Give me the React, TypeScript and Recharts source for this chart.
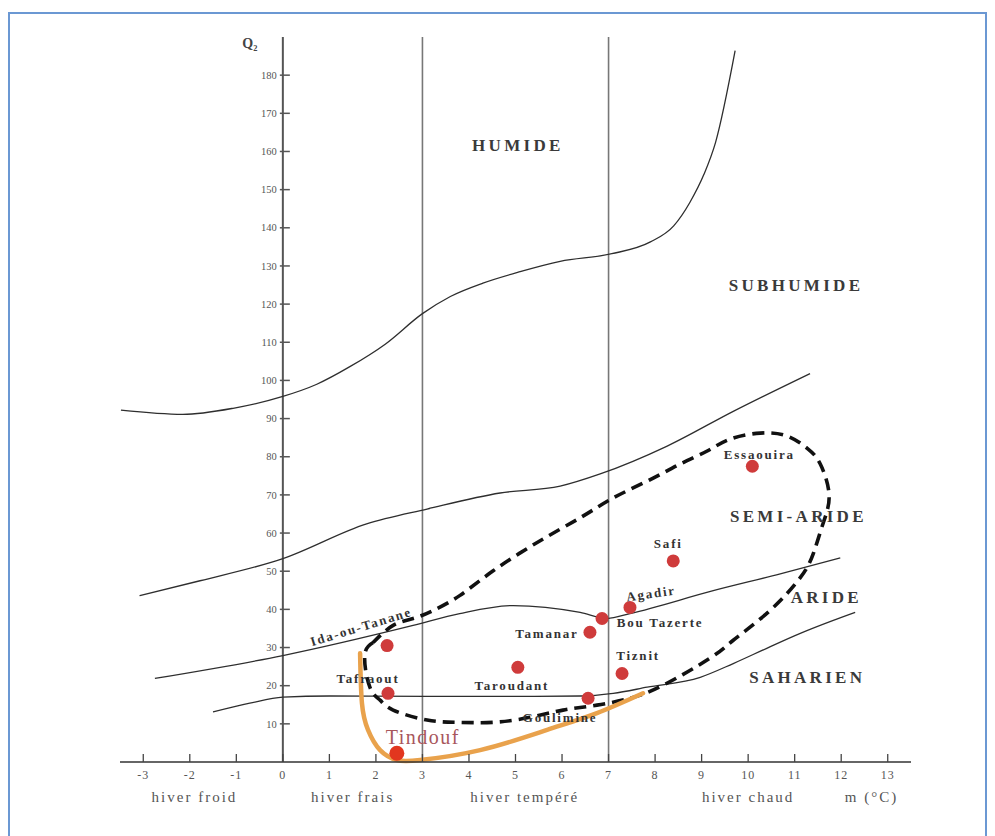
import React from "react";
import { ComposedChart, Line, Scatter, XAxis, YAxis, ReferenceLine } from "recharts";

// Emberger climagram: m (°C) on x, Q2 on y
const xTicks = [-3, -2, -1, 0, 1, 2, 3, 4, 5, 6, 7, 8, 9, 10, 11, 12, 13];
const yTicks = [10, 20, 30, 40, 50, 60, 70, 80, 90, 100, 110, 120, 130, 140, 150, 160, 170, 180];

// bioclimatic limits [m, Q2]
const humideLimit: [number, number][] = [
  [-3.48, 92.2], [-2.15, 91.1], [-1.07, 92.7], [0, 95.8], [0.73, 99], [1.44, 103.6],
  [2.2, 109.5], [3.0, 117.5], [3.6, 122], [4.3, 125.5], [5.1, 128.5], [5.96, 131.2],
  [7.07, 133.2], [7.9, 136.3], [8.4, 140.5], [8.75, 146.7], [9.05, 154], [9.3, 162.4],
  [9.72, 186.4],
];
const subhumideLimit: [number, number][] = [
  [-3.08, 43.6], [-1.78, 47.5], [0, 53.3], [1.8, 62.4], [3.1, 66.3], [4.67, 70.5],
  [5.96, 72.3], [6.82, 75.5], [8.26, 82.8], [9.68, 91.9], [11.33, 101.8],
];
const semiArideLimit: [number, number][] = [
  [-2.75, 21.9], [0, 27.9], [2.8, 35.8], [3.8, 38.9], [4.95, 41], [6.39, 39.2],
  [6.97, 37.6], [7.46, 38.9], [9.25, 44.9], [10.69, 49.3], [11.98, 53.5],
];
const arideLimit: [number, number][] = [
  [-1.5, 13.1], [-0.71, 15.4], [0, 17], [1, 17.3], [3.1, 17.2], [5, 17.2], [6.39, 17.3],
  [7.1, 18], [7.83, 19.6], [8.97, 22.2], [9.68, 25.8], [10.4, 29.8], [11.12, 33.7],
  [11.83, 37.1], [12.3, 39.2],
];

// dashed envelope of the stations
const envelope: [number, number][] = [
  [1.94, 31.3], [1.76, 27.9], [1.87, 19.6], [2.09, 16.2], [2.37, 13.6], [3.1, 11],
  [3.74, 10.4], [4.52, 10.4], [5.31, 11.7], [6.02, 13.6], [6.75, 14.9], [7.46, 16.7],
  [8.17, 20.1], [9.18, 27.2], [9.68, 31.9], [10.47, 39.7], [11.12, 48.3], [11.4, 54.6],
  [11.61, 62.5], [11.74, 70], [11.55, 78.1], [11.27, 82.2], [10.84, 85.4],
  [10.26, 86.2], [9.61, 84.6], [9.12, 81.5], [8.54, 78.1], [7.83, 73.6], [7.1, 69.2],
  [6.39, 64], [5.53, 58], [4.52, 50.1], [3.8, 43.6], [3.23, 39.7], [2.8, 37.6],
  [2.37, 35.8], [1.94, 31.3],
];

// orange trace around Tindouf
const tindoufTrace: [number, number][] = [
  [1.66, 28.5], [1.7, 15.4], [1.83, 8.4], [2.09, 3.1], [2.45, 0.5], [2.95, 0.5],
  [4.24, 3.1], [5.68, 8.4], [6.75, 12.8], [7.74, 18],
];

const stationNames = [
  "Ida-ou-Tanane", "Tafraout", "Taroudant", "Tamanar", "Bou Tazerte", "Agadir",
  "Tiznit", "Goulimine", "Safi", "Essaouira", "Tindouf",
];
const stationM = [2.24, 2.26, 5.05, 6.6, 6.86, 7.46, 7.29, 6.56, 8.39, 10.09, 2.45];
const stationQ = [30.5, 18, 24.8, 34, 37.6, 40.5, 23.2, 16.7, 52.7, 77.5, 2.3];

const zoneNames = ["HUMIDE", "SUBHUMIDE", "SEMI-ARIDE", "ARIDE", "SAHARIEN"];
const zoneM = [5.05, 11.03, 11.08, 11.68, 11.27];
const zoneQ = [161.6, 125, 64.5, 43.1, 22.2];

const winterNames = ["hiver froid", "hiver frais", "hiver tempéré", "hiver chaud", "m (°C)"];
const winterM = [-1.9, 1.5, 5.2, 10, 12.65];

const pts = (arr: [number, number][]) => arr.map(([x, y]) => ({ x, y }));
const stations = stationNames.map((name, i) => ({ name, x: stationM[i], y: stationQ[i] }));
const zones = zoneNames.map((name, i) => ({ name, x: zoneM[i], y: zoneQ[i] }));
const winters = winterNames.map((name, i) => ({ name, x: winterM[i], y: 0 }));
const yTickPts = yTicks.map((v) => ({ x: 0, y: v }));

const SERIF = '"Liberation Serif", "DejaVu Serif", serif';

const labelPos: Record<string, { dx: number; dy: number; rot?: number }> = {
  "Ida-ou-Tanane": { dx: -26, dy: -19, rot: -17 },
  Tafraout: { dx: -20, dy: -15 },
  Taroudant: { dx: -6, dy: 18 },
  Tamanar: { dx: -43, dy: 1 },
  "Bou Tazerte": { dx: 58, dy: 4 },
  Agadir: { dx: 21, dy: -14, rot: -8 },
  Tiznit: { dx: 16, dy: -18 },
  Goulimine: { dx: -28, dy: 19 },
  Safi: { dx: -5, dy: -17 },
  Essaouira: { dx: 7, dy: -12 },
  Tindouf: { dx: 26, dy: -16 },
};

const StationMark = (p: any) => {
  const { cx, cy, payload } = p;
  const big = payload.name === "Tindouf";
  const o = labelPos[payload.name];
  const tx = cx + o.dx;
  const ty = cy + o.dy;
  return (
    <g>
      <circle cx={cx} cy={cy} r={big ? 7.5 : 6.5} fill={big ? "#e2361f" : "#cf3b3b"} />
      <text
        x={tx}
        y={ty}
        dy="0.35em"
        textAnchor="middle"
        transform={o.rot ? `rotate(${o.rot} ${tx} ${ty})` : undefined}
        fontFamily={SERIF}
        fontSize={big ? 20 : 13}
        fontWeight={big ? "normal" : "bold"}
        letterSpacing={big ? 1.5 : 1.8}
        fill={big ? "#a8565c" : "#333"}
      >
        {payload.name}
      </text>
    </g>
  );
};

const ZoneLabel = (p: any) => (
  <text x={p.cx} y={p.cy} dy="0.35em" textAnchor="middle" fontFamily={SERIF} fontSize={17}
    fontWeight="bold" letterSpacing={3.3} fill="#3a3a3a">
    {p.payload.name}
  </text>
);

const WinterLabel = (p: any) => (
  <text x={p.cx} y={p.cy + 35} dy="0.35em" textAnchor="middle" fontFamily={SERIF} fontSize={15}
    letterSpacing={2} fill="#555">
    {p.payload.name}
  </text>
);

const YTickMark = (p: any) => (
  <g>
    <line x1={p.cx - 3} y1={p.cy} x2={p.cx + 7} y2={p.cy} stroke="#555" strokeWidth={1.5} />
    <text x={p.cx - 6} y={p.cy} dy="0.35em" textAnchor="end" fontFamily={SERIF} fontSize={10.5}
      fill="#555">
      {p.payload.y}
    </text>
  </g>
);

const XTick = (p: any) => {
  const { x, y, payload } = p;
  return (
    <g>
      <line x1={x} y1={y - 8} x2={x} y2={y} stroke="#444" strokeWidth={1.3} />
      <text x={x} y={y + 13} dy="0.35em" textAnchor="middle" fontFamily={SERIF} fontSize={12}
        letterSpacing={1} fill="#555">
        {payload.value}
      </text>
    </g>
  );
};

const QTitle = (p: any) => (
  <text x={p.cx - 33} y={p.cy + 6} dy="0.35em" textAnchor="middle" fontFamily={SERIF}
    fontSize={14} fontWeight="bold" fill="#444">
    Q₂
  </text>
);

const curveStyle = { stroke: "#2e2e2e", strokeWidth: 1.3 };

export default function App() {
  return (
    <div style={{ position: "absolute", left: 0, top: 0, width: 995, height: 836, background: "#fff", overflow: "hidden" }}>
      <div
        style={{
          position: "absolute", left: 8, top: 12, width: 979, height: 840,
          boxSizing: "border-box", border: "2px solid #6b98d3",
        }}
      />
      <div style={{ position: "absolute", left: 0, top: 0 }}>
        <ComposedChart width={995} height={836} margin={{ top: 37, right: 84, bottom: 44, left: 120 }}>
          <XAxis
            type="number"
            dataKey="x"
            domain={[-3.5, 13.5]}
            ticks={xTicks}
            height={30}
            tickSize={0}
            tickMargin={0}
            tickLine={false}
            axisLine={{ stroke: "#333", strokeWidth: 1.6 }}
            tick={<XTick />}
            interval={0}
          />
          <YAxis type="number" dataKey="y" domain={[0, 190]} hide width={0} />

          <ReferenceLine x={0} stroke="#555" strokeWidth={2} />
          <ReferenceLine x={3} stroke="#777" strokeWidth={1.6} />
          <ReferenceLine x={7} stroke="#777" strokeWidth={1.6} />

          <Line data={pts(humideLimit)} dataKey="y" type="monotone" {...curveStyle} dot={false} activeDot={false} isAnimationActive={false} />
          <Line data={pts(subhumideLimit)} dataKey="y" type="monotone" {...curveStyle} dot={false} activeDot={false} isAnimationActive={false} />
          <Line data={pts(semiArideLimit)} dataKey="y" type="monotone" {...curveStyle} dot={false} activeDot={false} isAnimationActive={false} />
          <Line data={pts(arideLimit)} dataKey="y" type="monotone" {...curveStyle} dot={false} activeDot={false} isAnimationActive={false} />

          <Line data={pts(envelope)} dataKey="y" type="natural" stroke="#111" strokeWidth={3.6}
            strokeDasharray="12 7" dot={false} activeDot={false} isAnimationActive={false} />
          <Line data={pts(tindoufTrace)} dataKey="y" type="natural" stroke="#e9a24c" strokeWidth={4.5}
            strokeLinecap="round" dot={false} activeDot={false} isAnimationActive={false} />

          <Scatter data={yTickPts} shape={<YTickMark />} isAnimationActive={false} />
          <Scatter data={[{ x: 0, y: 190 }]} shape={<QTitle />} isAnimationActive={false} />
          <Scatter data={winters} shape={<WinterLabel />} isAnimationActive={false} />
          <Scatter data={zones} shape={<ZoneLabel />} isAnimationActive={false} />
          <Scatter data={stations} shape={<StationMark />} isAnimationActive={false} />
        </ComposedChart>
      </div>
    </div>
  );
}
